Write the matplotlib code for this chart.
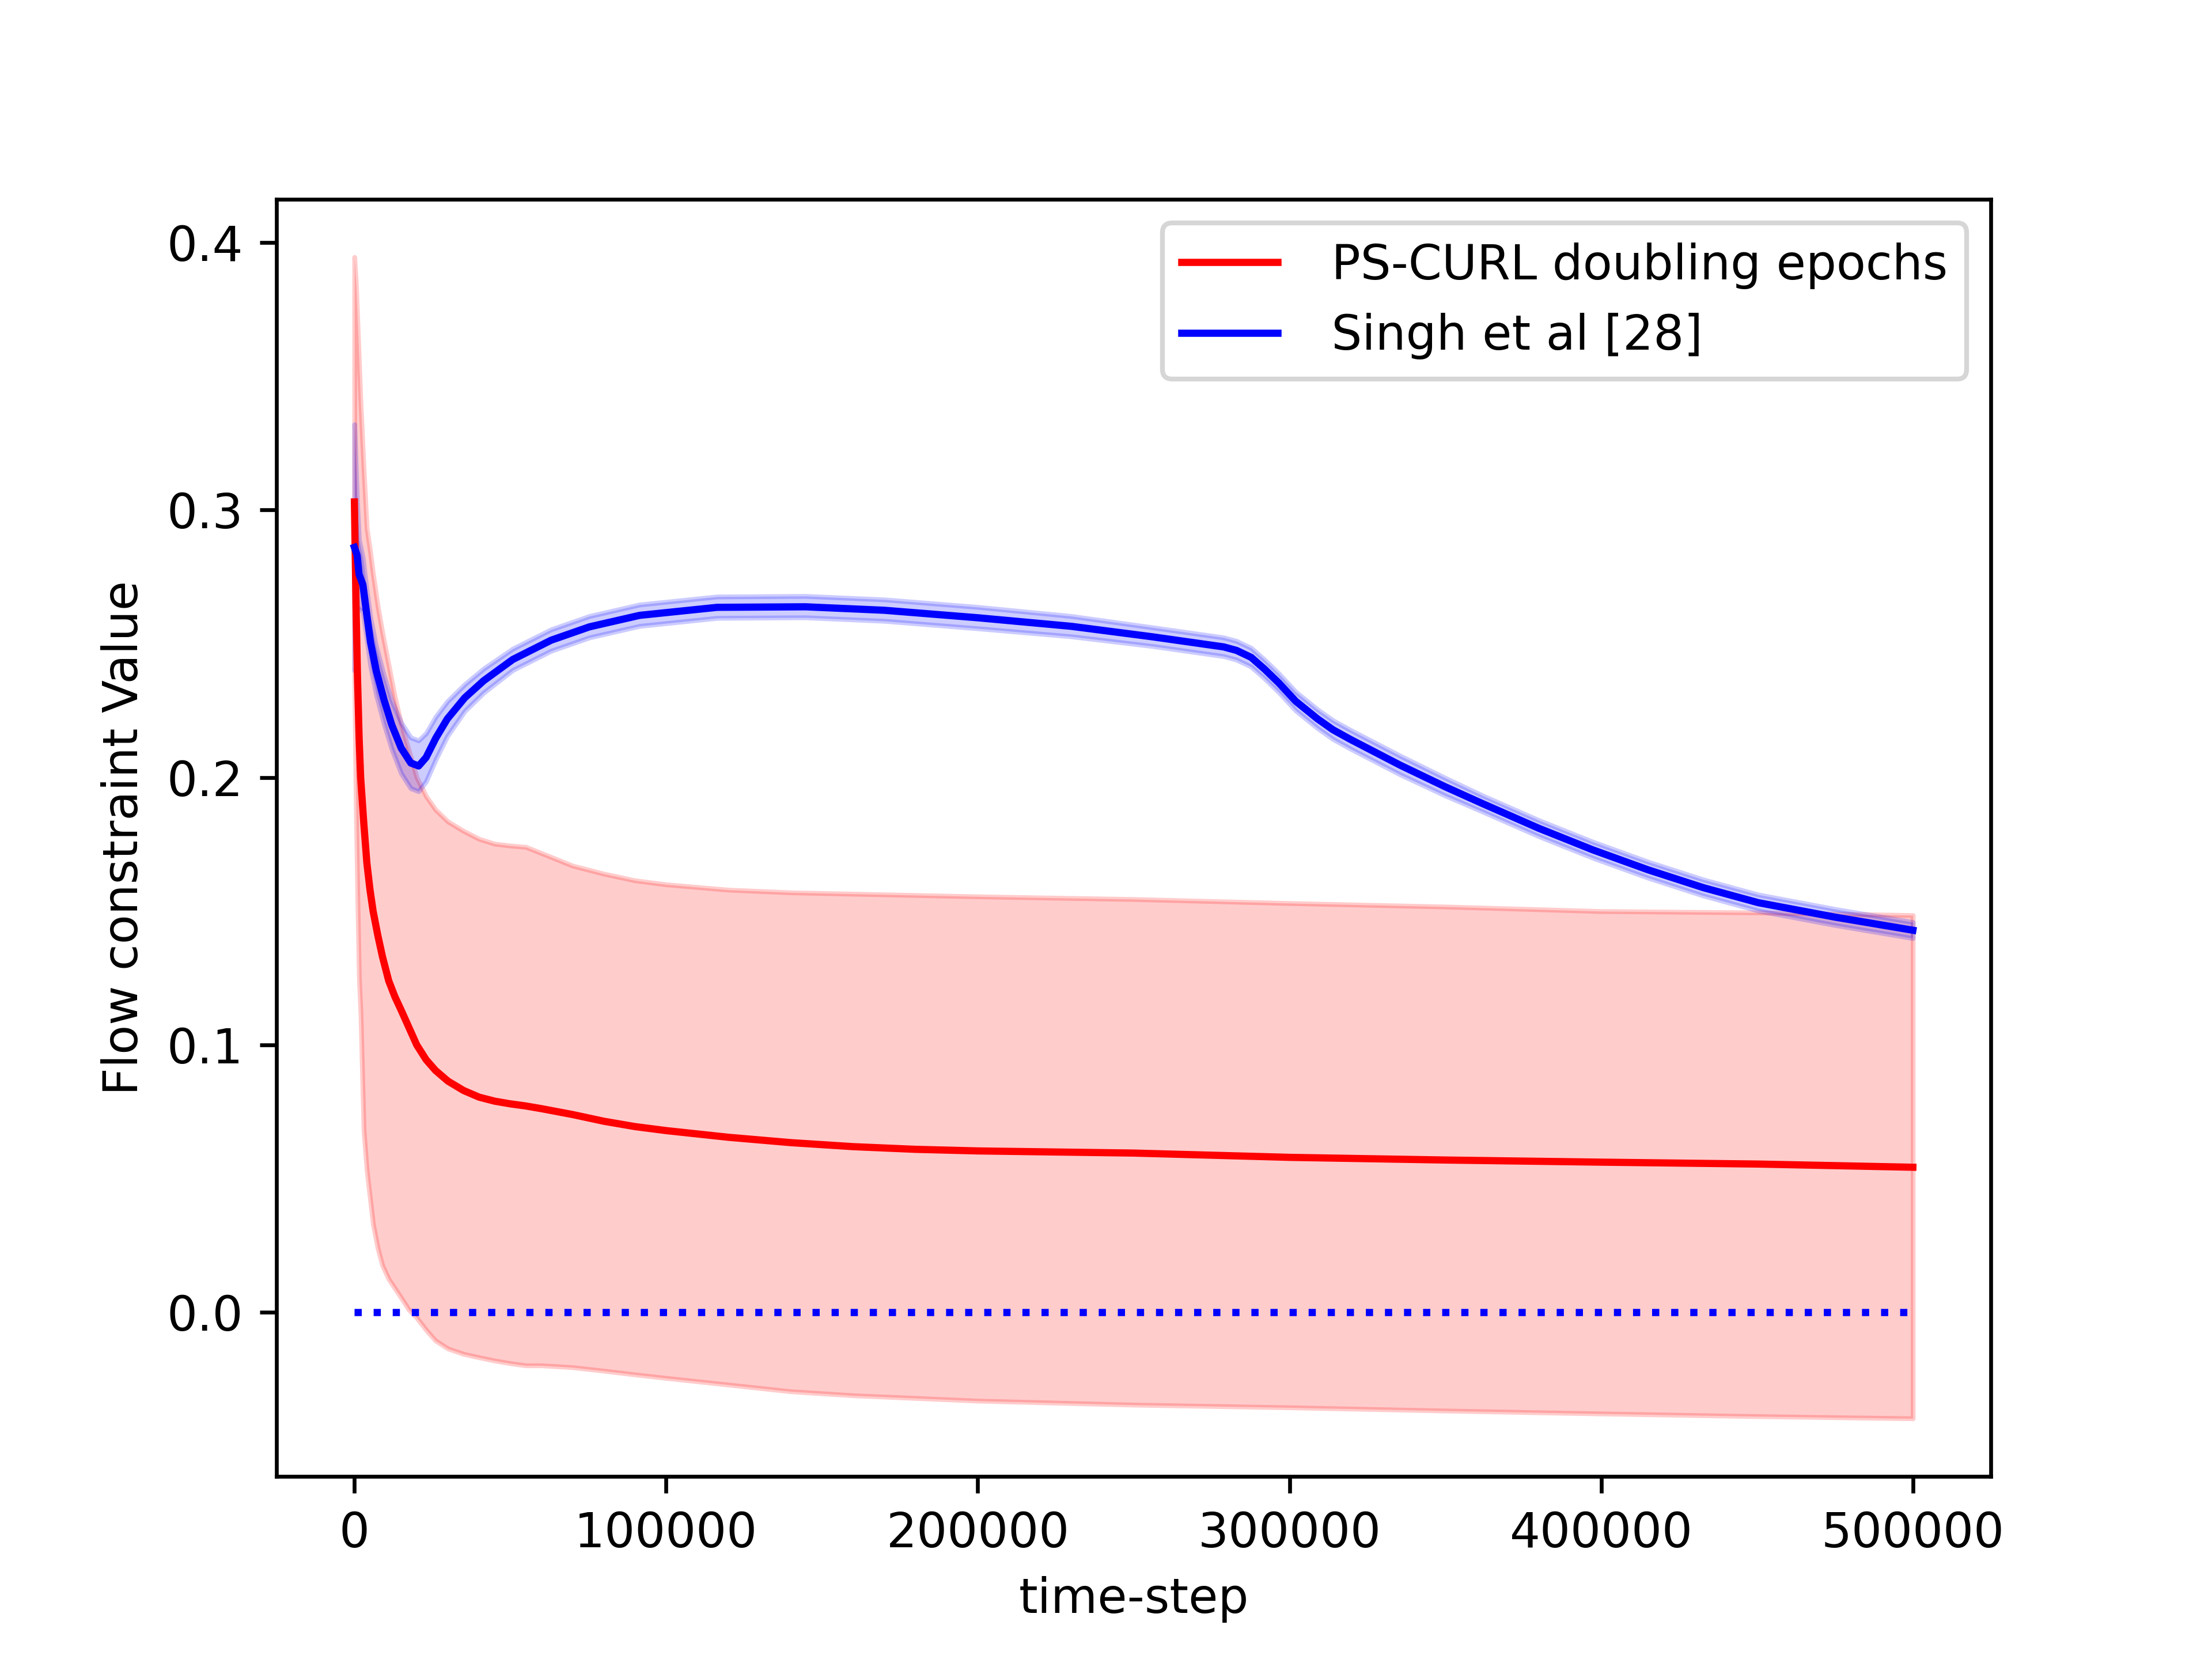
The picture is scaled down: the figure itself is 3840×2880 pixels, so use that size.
import numpy as np
from matplotlib import pyplot as plt

# PS-CURL doubling epochs: mean and band edges
red_steps = [0, 500, 1000, 1500, 2000, 3000, 4000, 5000, 6000, 7500, 9000, 11000,
             13000, 15000, 17500, 20000, 23000, 26000, 30000, 35000, 40000, 45000,
             50000, 55000, 60000, 70000, 80000, 90000, 100000, 120000, 140000,
             160000, 180000, 200000, 250000, 300000, 350000, 400000, 450000, 500000]
red_mean = [0.303, 0.265, 0.237, 0.215, 0.200, 0.183, 0.168, 0.158, 0.150, 0.141,
            0.133, 0.124, 0.118, 0.113, 0.1065, 0.100, 0.0945, 0.0905, 0.0865, 0.083,
            0.0805, 0.079, 0.078, 0.0772, 0.0762, 0.074, 0.0715, 0.0695, 0.068,
            0.0655, 0.0635, 0.062, 0.061, 0.0604, 0.0596, 0.058, 0.057, 0.0562,
            0.0555, 0.0543]
red_hi = [0.3945, 0.385, 0.370, 0.355, 0.340, 0.315, 0.293, 0.285, 0.276, 0.264,
          0.254, 0.242, 0.230, 0.220, 0.210, 0.200, 0.193, 0.188, 0.1835, 0.180,
          0.177, 0.1752, 0.1745, 0.174, 0.1717, 0.167, 0.164, 0.1615, 0.160,
          0.158, 0.157, 0.1565, 0.156, 0.1555, 0.1545, 0.153, 0.1517, 0.150,
          0.1495, 0.1485]
red_lo = [0.240, 0.190, 0.155, 0.125, 0.112, 0.068, 0.053, 0.043, 0.033, 0.024,
          0.0175, 0.0125, 0.009, 0.0055, 0.001, -0.002, -0.0065, -0.0105, -0.0135,
          -0.0155, -0.0168, -0.018, -0.019, -0.0198, -0.0198, -0.0205, -0.0218,
          -0.0232, -0.0245, -0.027, -0.0295, -0.031, -0.032, -0.033, -0.0345,
          -0.0355, -0.0367, -0.0378, -0.0388, -0.0396]

# Singh et al [28]: mean and half width of the band
blue_steps = [0, 870, 1480, 2720, 3950, 5170, 7020, 9500, 11960, 15000, 18100,
              20600, 23000, 26100, 29800, 35400, 41500, 50800, 63100, 75400, 91500,
              116400, 144700, 170000, 200000, 230000, 255900, 278900, 283000, 287700,
              292000, 296600, 302000, 309000, 314000, 319600, 335500, 350000, 362000,
              380000, 397400, 415000, 432800, 450400, 475000, 500000]
blue_mean = [0.286, 0.283, 0.276, 0.272, 0.261, 0.2505, 0.2398, 0.229, 0.2197,
             0.211, 0.2054, 0.2043, 0.2075, 0.2147, 0.2219, 0.2298, 0.2362, 0.2441,
             0.2513, 0.2563, 0.2606, 0.2636, 0.2638, 0.2625, 0.2597, 0.2565, 0.2526,
             0.2488, 0.2475, 0.2449, 0.2405, 0.2353, 0.2285, 0.2219, 0.2178, 0.2142,
             0.2046, 0.1965, 0.1902, 0.181, 0.1729, 0.1655, 0.1588, 0.1532, 0.1478,
             0.1429]
blue_hw = [0.046, 0.02, 0.013, 0.01, 0.009, 0.009, 0.009, 0.009, 0.009, 0.0095,
           0.0095, 0.0095, 0.009, 0.008, 0.0065, 0.005, 0.0045, 0.004, 0.004,
           0.004, 0.004, 0.004, 0.004, 0.004, 0.004, 0.0038, 0.0035, 0.0035, 0.0035,
           0.0035, 0.0035, 0.0035, 0.0035, 0.0035, 0.0035, 0.0035, 0.0035, 0.0033,
           0.003, 0.003, 0.003, 0.003, 0.003, 0.003, 0.003, 0.003]

zero_steps = [0, 500000]
zero_val = [0.0, 0.0]

blue_mean = np.array(blue_mean)
blue_hw = np.array(blue_hw)

plt.figure(figsize=(6.4, 4.8))
plt.plot(red_steps, red_mean, color='red', label=' PS-CURL doubling epochs')
plt.fill_between(red_steps, red_lo, red_hi, color='red', alpha=0.2)
plt.plot(blue_steps, blue_mean, color='blue', label=' Singh et al [28]')
plt.fill_between(blue_steps, blue_mean - blue_hw, blue_mean + blue_hw, color='blue', alpha=0.2)
plt.plot(zero_steps, zero_val, color='blue', linestyle=':')
plt.xlabel('time-step')
plt.ylabel('Flow constraint Value')
plt.legend(loc='upper right')
plt.savefig('out.png', dpi=600)
